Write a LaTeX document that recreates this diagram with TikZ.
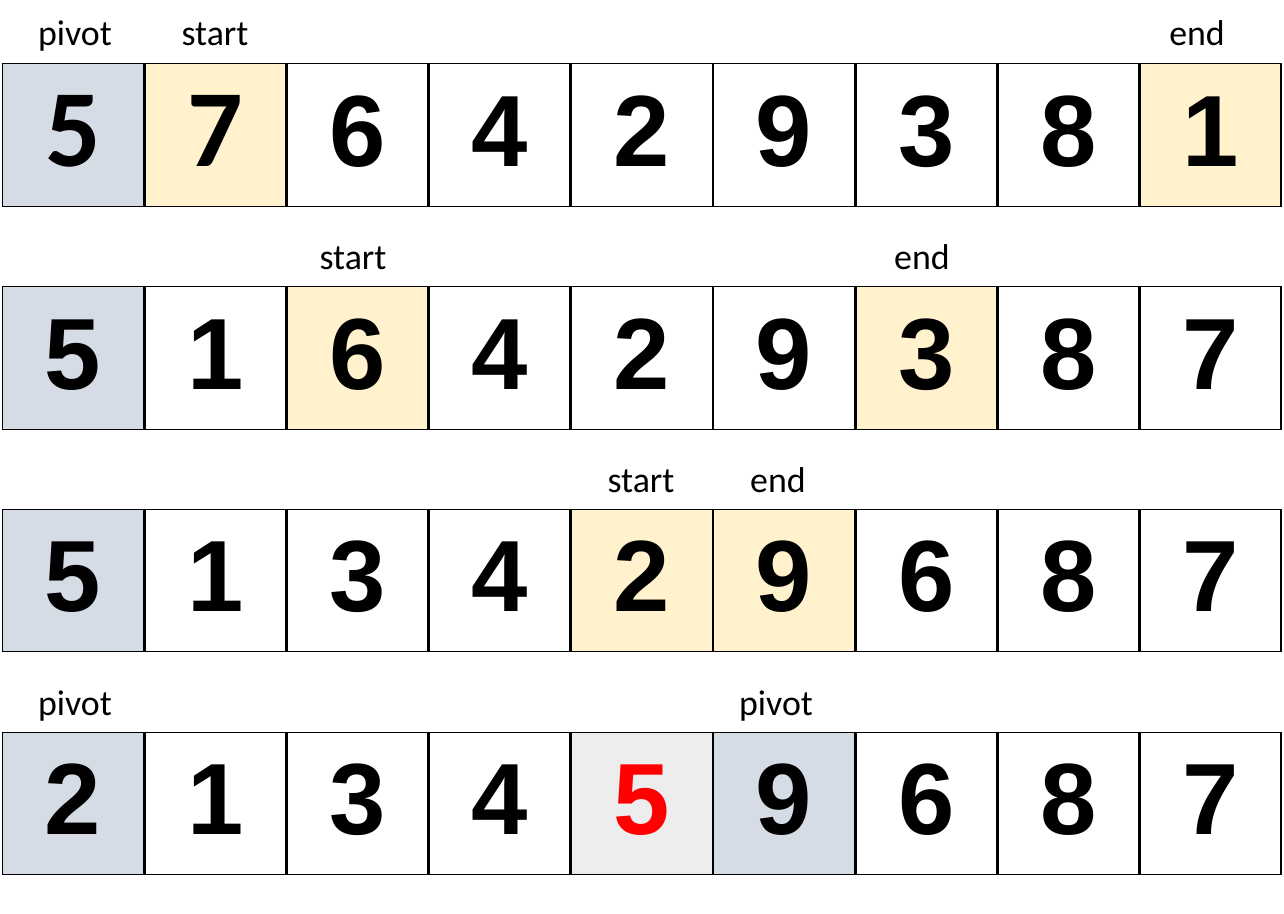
\documentclass[tikz,border=0pt]{standalone}
\usepackage{fontspec}
\setmainfont{Carlito}
\newfontfamily\digitfont{Liberation Sans}
\newfontfamily\calfont{Carlito}
\newcommand\calbig{\calfont\fontsize{78}{78}\selectfont}
\usetikzlibrary{positioning}
\definecolor{pivotgrey}{HTML}{D6DCE5}
\definecolor{markyellow}{HTML}{FFF2CC}
\definecolor{placedgrey}{HTML}{EDEDED}

\begin{document}
\begin{tikzpicture}[
  x=0.025cm, y=-0.025cm,
  cell/.style={draw=black, line width=1pt, minimum width=3.52cm, minimum height=3.56cm,
               inner sep=0pt, text height=1.82cm, text depth=0.25cm,
               font=\digitfont\bfseries\fontsize{72}{72}\selectfont},
  lab/.style={font=\fontsize{25.5}{28}\selectfont, inner sep=0pt, anchor=base}
]
\useasboundingbox (0,0) rectangle (1284,914);
% ----- row 1: pivot 5, start at 7, end at 1 -----
\foreach \v/\f/\ff [count=\i from 0] in {5/pivotgrey/\calbig,7/markyellow/\calbig,6/white/\relax,4/white/\relax,2/white/\relax,9/white/\relax,3/white/\relax,8/white/\relax,1/markyellow/\relax}
  {\node[cell, fill=\f] (a\i) at (73.1+142.2*\i,135) {\ff\v};}
% ----- row 2: 1 and 7 swapped -----
\foreach \v/\f [count=\i from 0] in {5/pivotgrey,1/white,6/markyellow,4/white,2/white,9/white,3/markyellow,8/white,7/white}
  {\node[cell, fill=\f] (b\i) at (73.1+142.2*\i,358) {\v};}
% ----- row 3: 6 and 3 swapped -----
\foreach \v/\f [count=\i from 0] in {5/pivotgrey,1/white,3/white,4/white,2/markyellow,9/markyellow,6/white,8/white,7/white}
  {\node[cell, fill=\f] (c\i) at (73.1+142.2*\i,580.5) {\v};}
% ----- row 4: pivot placed, two new pivots -----
\foreach \v/\f/\t [count=\i from 0] in {2/pivotgrey/black,1/white/black,3/white/black,4/white/black,5/placedgrey/red,9/pivotgrey/black,6/white/black,8/white/black,7/white/black}
  {\node[cell, fill=\f, text=\t] (d\i) at (73.1+142.2*\i,803.5) {\v};}
% ----- labels -----
\node[lab] (pa) at (75,46)    {pivot};
\node[lab] (sa) at (215,46)   {start};
\node[lab] (ea) at (1197,46)  {end};
\node[lab] (sb) at (353,269)  {start};
\node[lab] (eb) at (922,269)  {end};
\node[lab] (sc) at (641,492)  {start};
\node[lab] (ec) at (778,492)  {end};
\node[lab] (pd) at (75,715)   {pivot};
\node[lab] (pe) at (776,715)  {pivot};
\end{tikzpicture}
\end{document}
